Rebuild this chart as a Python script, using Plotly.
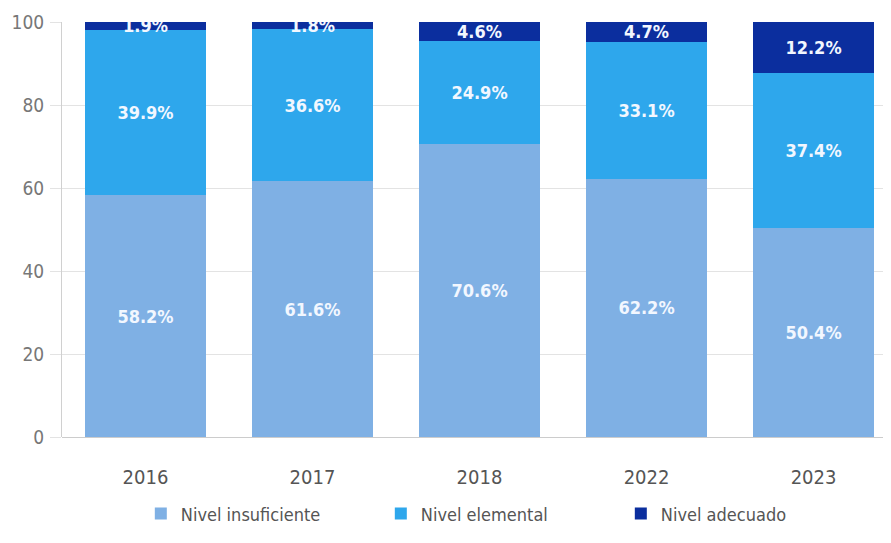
import plotly.graph_objects as go

years = ["2016", "2017", "2018", "2022", "2023"]
insuficiente = [58.2, 61.6, 70.6, 62.2, 50.4]
elemental = [39.9, 36.6, 24.9, 33.1, 37.4]
adecuado = [1.9, 1.8, 4.6, 4.7, 12.2]
series_names = ["Nivel insuficiente", "Nivel elemental", "Nivel adecuado"]
colors = ["#7FB0E4", "#2EA7EC", "#0B2E9E"]

FONT = "DejaVu Sans Condensed, Liberation Sans, Arial"

fig = go.Figure()
for name, vals, col in zip(series_names, [insuficiente, elemental, adecuado], colors):
    fig.add_trace(go.Bar(
        x=years, y=vals, name=name, marker=dict(color=col, line=dict(width=0)),
        text=[f"{v:.1f}%" for v in vals], textposition="inside",
        insidetextanchor="middle", textangle=0,
        textfont=dict(color="#F2F7FF", size=18, family=FONT, weight="bold"),
        hoverinfo="skip",
    ))

fig.update_layout(
    barmode="stack",
    width=875, height=527,
    margin=dict(l=54, r=0, t=14, b=98),
    paper_bgcolor="white", plot_bgcolor="white",
    bargap=0.28,
    uniformtext=dict(minsize=18, mode="show"),
    font=dict(family=FONT, color="#666666", size=17),
    legend=dict(orientation="h", x=0.096, xanchor="left", yref="container", y=0.005,
                yanchor="bottom",
                font=dict(size=18, color="#555555"), traceorder="normal",
                entrywidth=195, entrywidthmode="pixels"),
    xaxis=dict(range=[-0.5, 4.416], showgrid=False, ticks="", automargin=False,
               tickfont=dict(size=20, color="#555555"), ticklabelstandoff=26,
               showline=False),
    yaxis=dict(range=[0, 100], dtick=20, showgrid=True, gridcolor="#E3E3E3", gridwidth=1,
               zeroline=True, zerolinecolor="#CCCCCC", zerolinewidth=1, automargin=False,
               showline=True, linecolor="#D0D0D0", linewidth=1,
               ticks="outside", ticklen=11, tickcolor="#E3E3E3", ticklabelstandoff=2,
               tickfont=dict(size=19, color="#777777")),
)

fig.write_html("out.html")
